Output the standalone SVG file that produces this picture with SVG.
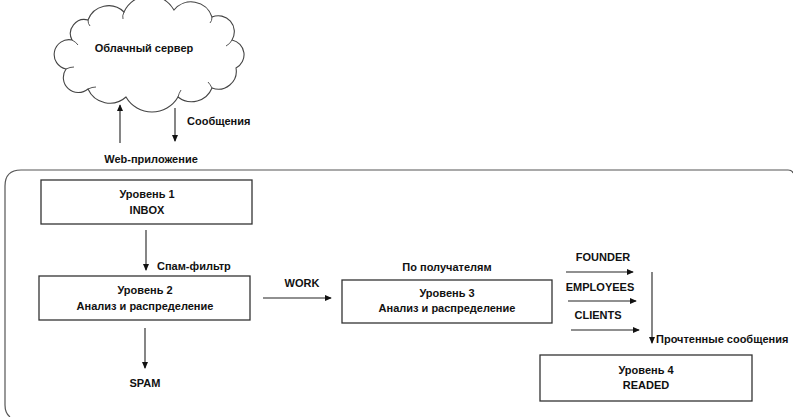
<svg xmlns="http://www.w3.org/2000/svg" width="793" height="417" viewBox="0 0 793 417">
<style>
text{font-family:"Liberation Sans",Arial,sans-serif;font-weight:bold;font-size:11px;fill:#111;text-anchor:middle}
.box{fill:#fff;stroke:#333;stroke-width:1.3}
.ln{stroke:#222;stroke-width:1.1;fill:none}
.ln2{stroke:#555;stroke-width:1.2;fill:none}
.l{text-anchor:start}
</style>
<defs>
<marker id="ah" viewBox="0 0 8 8" refX="7" refY="4" markerWidth="7" markerHeight="7" markerUnits="userSpaceOnUse" orient="auto">
<path d="M0,0.5 L8,4 L0,7.5 Z" fill="#111"/>
</marker>
</defs>
<rect width="793" height="417" fill="#fff"/>
<g id="frame">
<path class="ln2" d="M10,417 Q5,413 5,405 L5,186 Q5,170 21,170 L788,170 Q792,170 793,173"/>
</g>
<g id="cloud">
<path d="M72,40 A14,14 0 0 1 88,20 A22,22 0 0 1 124,12 A28,28 0 0 1 174,10 A22,22 0 0 1 212,17 A16,16 0 0 1 232,40 A15,15 0 0 1 236,68 A18,18 0 0 1 212,88 A22,22 0 0 1 178,97 A30,30 0 0 1 126,97 A24,24 0 0 1 88,89 A15,15 0 0 1 66,69 A14,14 0 0 1 72,40 Z" fill="#fff" stroke="#444" stroke-width="1.1"/>
<path d="M72,40 Q76,42 78,45 M88,20 Q88,24 90,26 M124,12 Q122,16 123,19 M212,17 Q212,21 210,23 M232,40 Q230,44 226,46 M212,88 Q210,84 208,82 M178,97 Q179,93 181,90 M88,89 Q92,87 96,87 M66,69 Q70,67 74,67" fill="none" stroke="#444" stroke-width="0.9"/>
<text x="144" y="52">Облачный сервер</text>
</g>
<g id="level1">
<rect class="box" x="41" y="180" width="211" height="44"/>
<text x="147" y="198">Уровень 1</text>
<text x="147" y="214">INBOX</text>
</g>
<g id="level2">
<rect class="box" x="39" y="276" width="211" height="44"/>
<text x="145" y="294">Уровень 2</text>
<text x="145" y="310">Анализ и распределение</text>
</g>
<g id="level3">
<rect class="box" x="342" y="280" width="210" height="43"/>
<text x="447" y="297">Уровень  3</text>
<text x="447" y="312">Анализ и распределение</text>
</g>
<g id="level4">
<rect class="box" x="540" y="355" width="212" height="46"/>
<text x="646" y="374">Уровень  4</text>
<text x="646" y="389">READED</text>
</g>
<g id="connectors">
<line class="ln" x1="120" y1="143" x2="120" y2="105" marker-end="url(#ah)"/>
<line class="ln" x1="175" y1="108" x2="175" y2="141" marker-end="url(#ah)"/>
<line class="ln" x1="146" y1="230" x2="146" y2="270" marker-end="url(#ah)"/>
<line class="ln" x1="145" y1="328" x2="145" y2="368" marker-end="url(#ah)"/>
<line class="ln" x1="263" y1="298" x2="331" y2="298" marker-end="url(#ah)"/>
<line class="ln" x1="566" y1="272" x2="633" y2="272" marker-end="url(#ah)"/>
<line class="ln" x1="568" y1="301" x2="636" y2="301" marker-end="url(#ah)"/>
<line class="ln" x1="571" y1="330" x2="639" y2="330" marker-end="url(#ah)"/>
<line class="ln" x1="652" y1="272" x2="652" y2="343" marker-end="url(#ah)"/>
</g>
<g id="labels">
<text class="l" x="187" y="125">Сообщения</text>
<text x="151" y="163">Web-приложение</text>
<text class="l" x="157" y="270">Спам-фильтр</text>
<text x="145" y="387">SPAM</text>
<text x="302" y="287">WORK</text>
<text x="447" y="271">По получателям</text>
<text x="603" y="261">FOUNDER</text>
<text x="600" y="291">EMPLOYEES</text>
<text x="598" y="319">CLIENTS</text>
<text class="l" x="656" y="343">Прочтенные сообщения</text>
</g>
</svg>
